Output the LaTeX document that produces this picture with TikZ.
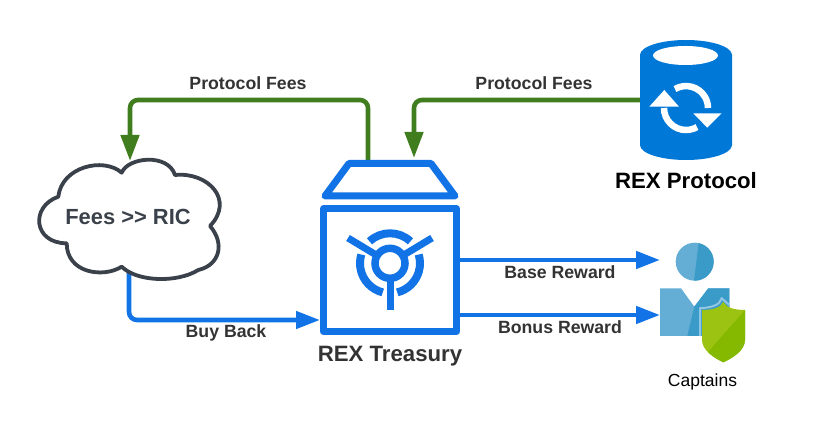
\documentclass[tikz,border=0pt]{standalone}
\usepackage{fontspec}
\setmainfont{Liberation Sans}
\usetikzlibrary{arrows.meta}
\definecolor{rexblue}{RGB}{17,115,230}
\definecolor{feegreen}{RGB}{64,125,30}
\definecolor{slate}{RGB}{58,65,74}
\definecolor{labelgray}{RGB}{51,51,51}
\definecolor{dbblue}{RGB}{0,120,215}
\definecolor{capt_l}{RGB}{100,174,214}
\definecolor{capt_d}{RGB}{58,155,201}
\definecolor{shield_l}{RGB}{156,195,18}
\definecolor{shield_d}{RGB}{132,185,0}
\tikzset{
  flow_g/.style = {feegreen, line width=4.6pt, rounded corners=8pt,
    -{Triangle[width=18pt,length=26pt]}},
  flow_b/.style = {rexblue, line width=4.6pt, rounded corners=8pt,
    -{Triangle[width=17pt,length=24pt]}},
  lbl/.style = {inner sep=0pt, font=\bfseries\fontsize{17.7}{20}\selectfont, text=labelgray},
  lbl_big/.style = {inner sep=0pt, font=\bfseries\fontsize{22.2}{26}\selectfont},
  safe/.style = {rexblue, line width=7pt, line join=round},
  emblem/.style = {rexblue, line width=8pt},
}

\begin{document}
\begin{tikzpicture}[x=1pt,y=1pt]
  \useasboundingbox (0,0) rectangle (815,433);

  \coordinate (top) at (0,333);
  \coordinate (roof_out) at (368,273);
  \coordinate (roof_in) at (414,275);
  \coordinate (cloud_in) at (130,272);
  \coordinate (cloud_out) at (129,160);
  \coordinate (db_out) at (641,333);
  \coordinate (safe_in) at (320,113);
  \coordinate (safe_base) at (457,173);
  \coordinate (safe_bonus) at (457,118);
  \coordinate (capt_base) at (660,173);
  \coordinate (capt_bonus) at (660,118);

  % connectors
  \draw[flow_g] (roof_out) -- (roof_out |- top) -- (cloud_in |- top) -- (cloud_in);
  \draw[flow_g] (db_out) -- (roof_in |- top) -- (roof_in);
  \draw[flow_b] (cloud_out) -- (cloud_out |- safe_in) -- (safe_in);
  \draw[flow_b] (safe_base) -- (capt_base);
  \draw[flow_b] (safe_bonus) -- (capt_bonus);

  % cloud
  \draw[slate, line width=3.8pt, fill=white, line join=round]
    (121.7,260.3) .. controls (128,276) and (168,280) .. (175,258)
    .. controls (208,261.3) and (235,233) .. (210,207)
    .. controls (225,189.7) and (220,168) .. (198.3,163)
    .. controls (176.7,149.7) and (136.7,151.3) .. (121.7,166.3)
    .. controls (103.3,154.7) and (66.7,159.7) .. (66.7,189.7)
    .. controls (33.3,189.7) and (30,226.3) .. (58.3,236.3)
    .. controls (61.7,266.3) and (103.3,276.3) .. (121.7,260.3) -- cycle;
  \node[inner sep=0pt, text=slate, font=\bfseries\fontsize{21.9}{26}\selectfont] (fees) at (128,216) {Fees >{}> RIC};

  % treasury
  \draw[safe] (325,237) -- (349,269.5) -- (431,269.5) -- (455,237) -- cycle;
  \draw[safe] (323.5,101.5) rectangle (456.5,224);
  \foreach \a/\b in {47/133,163/256,284/377}
    \draw[emblem] (390,169.7) ++(\a:30) arc[start angle=\a, end angle=\b, radius=30];
  \draw[rexblue, line width=7pt] (390,169.7) -- (390,123);
  \draw[rexblue, line width=7pt] (390,169.7) -- (348,195);
  \draw[rexblue, line width=7pt] (390,169.7) -- (432,195);
  \draw[rexblue, line width=7.5pt, fill=white] (390,169.7) circle (15);
  \node[lbl_big, text=labelgray] (treasury) at (390,76.5) {REX Treasury};

  % protocol
  \fill[dbblue] (640,378) -- (640,288) arc[start angle=180, end angle=360, x radius=46, y radius=15]
    -- (732,378) arc[start angle=0, end angle=180, x radius=46, y radius=15] -- cycle;
  \fill[white] (685.5,377.5) ellipse (32.5 and 9.5);
  \draw[white, line width=6.5pt] (664,325) arc[start angle=180, end angle=300, radius=22];
  \draw[white, line width=6.5pt] (675,344) arc[start angle=120, end angle=0, radius=22];
  \fill[white] (649.3,326.3) -- (679,326.3) -- (664.3,343) -- cycle;
  \fill[white] (693.3,319.7) -- (721.7,319.7) -- (707.3,305.3) -- cycle;
  \node[lbl_big, text=black] (protocol) at (686,252.5) {REX Protocol};

  % captains
  \fill[capt_l] (694.7,171.3) circle (19);
  \begin{scope}
    \clip (694.7,171.3) circle (19);
    \fill[capt_d] (699.3,195) -- (720,195) -- (720,150) -- (693.7,150) -- cycle;
  \end{scope}
  \fill[capt_l] (660,144.7) -- (681,144.7) -- (694.3,126.3) -- (708.3,144.7) -- (729.3,144.7)
    -- (729.3,97) -- (660,97) -- cycle;
  \fill[capt_d] (694.3,126.3) -- (708.3,144.7) -- (729.3,144.7) -- (729.3,97) -- (687.3,97) -- cycle;
  \draw[capt_l!70!white, line width=2pt] (700,97) -- (700,124.7)
    .. controls (712,125.5) and (720,128) .. (721.7,134.7) -- (729.3,128);
  \fill[shield_l] (702,123) .. controls (712,123) and (721,125) .. (723.3,131.3)
    .. controls (726,125) and (735,123) .. (745,123) -- (745,93)
    .. controls (745,83) and (733,75) .. (723.3,70.7)
    .. controls (714,75) and (702,83) .. (702,93) -- cycle;
  \begin{scope}
    \clip (702,123) -- (745,123) -- (745,93)
      .. controls (745,83) and (733,75) .. (723.3,70.7)
      .. controls (714,75) and (702,83) .. (702,93) -- cycle;
    \fill[shield_d] (745,123) -- (708.3,81.3) -- (708.3,60) -- (750,60) -- (750,123) -- cycle;
  \end{scope}
  \node[inner sep=0pt, font=\fontsize{17.5}{20}\selectfont] (captains) at (702.5,51.5) {Captains};

  % labels
  \node[lbl] (fee_l) at (248,350) {Protocol Fees};
  \node[lbl] (fee_r) at (534,350) {Protocol Fees};
  \node[lbl] (buyback) at (226,100.5) {Buy Back};
  \node[lbl] (base) at (560,161) {Base Reward};
  \node[lbl] (bonus) at (560,106) {Bonus Reward};
\end{tikzpicture}
\end{document}
